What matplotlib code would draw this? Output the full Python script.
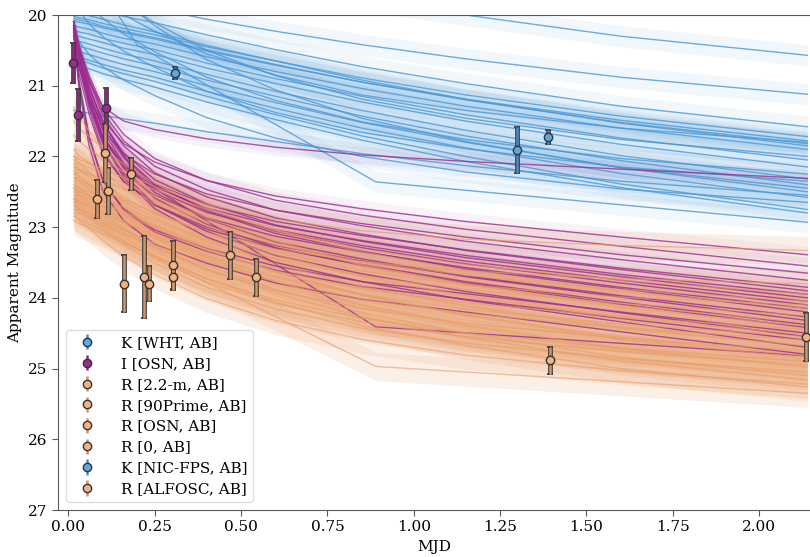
import numpy as np
import matplotlib.pyplot as plt

plt.rcParams['font.family'] = ['DejaVu Serif']

# knot times (days) for the model light curves
t_model = [0.015, 0.03, 0.06, 0.1, 0.16, 0.25, 0.4, 0.6, 0.85, 1.15, 1.6, 2.14]

mod_K = [
    [18.3, 18.4, 18.55, 18.7, 18.85, 19.05, 19.3, 19.6, 19.8, 20.0, 20.3, 20.57],
    [19.7, 19.71, 19.74, 19.79, 19.84, 19.91, 20.06, 20.23, 20.42, 20.62, 20.88, 21.12],
    [19.85, 19.87, 19.9, 19.95, 20.02, 20.11, 20.28, 20.49, 20.73, 20.97, 21.29, 21.58],
    [20.02, 20.04, 20.07, 20.12, 20.19, 20.28, 20.45, 20.65, 20.89, 21.13, 21.43, 21.72],
    [20.08, 20.1, 20.13, 20.18, 20.25, 20.34, 20.51, 20.71, 20.95, 21.19, 21.49, 21.78],
    [19.3, 19.43, 19.63, 19.8, 20.0, 20.23, 20.55, 20.85, 21.13, 21.35, 21.6, 21.8],
    [20.15, 20.17, 20.2, 20.26, 20.33, 20.41, 20.59, 20.8, 21.04, 21.29, 21.6, 21.9],
    [19.0, 19.15, 19.39, 19.6, 19.84, 20.11, 20.5, 20.86, 21.19, 21.46, 21.76, 22.0],
    [20.22, 20.24, 20.27, 20.33, 20.4, 20.49, 20.68, 20.9, 21.15, 21.41, 21.74, 22.05],
    [20.28, 20.3, 20.34, 20.39, 20.47, 20.56, 20.75, 20.97, 21.23, 21.5, 21.83, 22.15],
    [19.5, 19.64, 19.86, 20.05, 20.27, 20.52, 20.88, 21.21, 21.51, 21.76, 22.03, 22.25],
    [20.35, 20.37, 20.41, 20.47, 20.55, 20.65, 20.84, 21.08, 21.35, 21.63, 21.99, 22.32],
    [20.42, 20.44, 20.48, 20.54, 20.62, 20.72, 20.92, 21.15, 21.43, 21.71, 22.06, 22.4],
    [18.8, 18.98, 19.27, 19.53, 19.82, 20.15, 20.63, 21.06, 21.46, 21.79, 22.16, 22.45],
    [20.5, 20.52, 20.56, 20.62, 20.7, 20.8, 21.0, 21.24, 21.52, 21.8, 22.16, 22.5],
    [20.58, 20.6, 20.64, 20.7, 20.78, 20.88, 21.08, 21.32, 21.6, 21.88, 22.24, 22.58],
    [20.25, 20.37, 20.56, 20.73, 20.92, 21.14, 21.45, 21.74, 22.0, 22.22, 22.46, 22.65],
    [21.35, 21.36, 21.39, 21.42, 21.47, 21.53, 21.65, 21.79, 21.96, 22.13, 22.35, 22.55],
    [20.62, 20.64, 20.68, 20.75, 20.83, 20.94, 21.15, 21.41, 21.71, 22.0, 22.39, 22.75],
    [19.8, 19.93, 20.13, 20.31, 20.51, 20.74, 21.08, 21.38, 21.66, 21.89, 22.15, 22.35],
    [20.05, 20.07, 20.1, 20.16, 20.23, 20.32, 20.49, 20.7, 20.95, 21.2, 21.52, 21.82],
    [19.95, 19.97, 20.01, 20.06, 20.14, 20.24, 20.43, 20.65, 20.92, 21.19, 21.53, 21.85],
    [20.7, 20.72, 20.76, 20.83, 20.91, 21.02, 21.23, 21.48, 21.77, 22.07, 22.44, 22.8],
]

mod_I = [
    [20.1, 20.4, 20.95, 21.3, 21.5, 21.62, 21.75, 21.87, 21.98, 22.07, 22.18, 22.31],
    [20.12, 20.55, 21.04, 21.49, 21.82, 22.08, 22.34, 22.56, 22.74, 22.92, 23.14, 23.39],
    [20.1, 20.45, 20.86, 21.31, 21.69, 22.03, 22.34, 22.62, 22.83, 23.03, 23.27, 23.55],
    [20.15, 20.61, 21.13, 21.62, 21.97, 22.25, 22.53, 22.76, 22.95, 23.14, 23.39, 23.65],
    [20.1, 20.47, 20.9, 21.38, 21.78, 22.14, 22.47, 22.76, 22.98, 23.2, 23.46, 23.75],
    [20.2, 20.67, 21.22, 21.73, 22.1, 22.39, 22.68, 22.92, 23.12, 23.32, 23.58, 23.85],
    [20.1, 20.48, 20.94, 21.43, 21.85, 22.23, 22.57, 22.87, 23.1, 23.33, 23.6, 23.9],
    [20.15, 20.64, 21.21, 21.75, 22.13, 22.43, 22.73, 22.98, 23.19, 23.4, 23.67, 23.95],
    [20.2, 20.58, 21.04, 21.53, 21.95, 22.33, 22.67, 22.97, 23.2, 23.43, 23.7, 24.0],
    [20.1, 20.61, 21.21, 21.76, 22.15, 22.47, 22.79, 23.04, 23.26, 23.48, 23.75, 24.05],
    [20.25, 20.64, 21.1, 21.6, 22.02, 22.41, 22.75, 23.06, 23.29, 23.52, 23.79, 24.1],
    [20.15, 20.67, 21.27, 21.83, 22.23, 22.55, 22.87, 23.13, 23.35, 23.57, 23.85, 24.15],
    [20.1, 20.51, 21.0, 21.54, 21.99, 22.4, 22.77, 23.09, 23.34, 23.59, 23.87, 24.2],
    [20.3, 20.82, 21.41, 21.97, 22.36, 22.68, 23.0, 23.26, 23.48, 23.69, 23.97, 24.27],
    [20.2, 20.61, 21.11, 21.64, 22.1, 22.51, 22.88, 23.21, 23.45, 23.7, 23.99, 24.32],
    [20.15, 20.7, 21.33, 21.93, 22.35, 22.69, 23.03, 23.3, 23.53, 23.77, 24.06, 24.38],
    [20.25, 20.67, 21.17, 21.71, 22.17, 22.59, 22.96, 23.29, 23.54, 23.79, 24.09, 24.42],
    [20.2, 20.97, 21.75, 22.35, 22.74, 23.04, 23.3, 23.55, 23.77, 23.94, 24.2, 24.5],
    [20.3, 20.73, 21.24, 21.79, 22.26, 22.68, 23.06, 23.4, 23.66, 23.91, 24.21, 24.55],
    [20.1, 20.91, 21.72, 22.35, 22.76, 23.07, 23.34, 23.61, 23.84, 24.02, 24.29, 24.6],
    [20.25, 20.7, 21.23, 21.81, 22.3, 22.74, 23.14, 23.5, 23.77, 24.03, 24.34, 24.7],
    [20.2, 21.03, 21.86, 22.5, 22.91, 23.24, 23.51, 23.79, 24.02, 24.2, 24.48, 24.8],
]

mod_R = [
    [21.7, 21.78, 21.9, 22.04, 22.22, 22.43, 22.68, 22.89, 23.05, 23.17, 23.26, 23.33],
    [21.9, 21.99, 22.09, 22.24, 22.44, 22.67, 22.98, 23.25, 23.49, 23.68, 23.88, 24.05],
    [22.0, 22.04, 22.1, 22.18, 22.3, 22.47, 22.75, 23.05, 23.35, 23.61, 23.91, 24.15],
    [22.1, 22.19, 22.29, 22.44, 22.64, 22.87, 23.18, 23.45, 23.69, 23.88, 24.08, 24.25],
    [22.15, 22.19, 22.25, 22.34, 22.46, 22.63, 22.92, 23.23, 23.54, 23.8, 24.11, 24.35],
    [22.2, 22.29, 22.4, 22.56, 22.76, 23.01, 23.33, 23.62, 23.87, 24.07, 24.27, 24.45],
    [22.3, 22.34, 22.4, 22.49, 22.61, 22.79, 23.08, 23.39, 23.7, 23.97, 24.28, 24.52],
    [22.35, 22.44, 22.55, 22.71, 22.91, 23.16, 23.48, 23.77, 24.02, 24.22, 24.42, 24.6],
    [22.4, 22.45, 22.5, 22.59, 22.72, 22.9, 23.2, 23.52, 23.84, 24.11, 24.43, 24.68],
    [22.45, 22.54, 22.66, 22.82, 23.03, 23.28, 23.6, 23.9, 24.15, 24.36, 24.57, 24.75],
    [22.5, 22.55, 22.6, 22.7, 22.82, 23.01, 23.31, 23.64, 23.96, 24.24, 24.56, 24.82],
    [22.55, 22.64, 22.76, 22.93, 23.14, 23.4, 23.73, 24.03, 24.29, 24.5, 24.71, 24.9],
    [22.6, 22.65, 22.71, 22.8, 22.93, 23.12, 23.43, 23.77, 24.1, 24.39, 24.72, 24.98],
    [22.65, 22.75, 22.87, 23.03, 23.25, 23.51, 23.85, 24.16, 24.43, 24.64, 24.86, 25.05],
    [22.7, 22.75, 22.81, 22.9, 23.04, 23.23, 23.54, 23.88, 24.21, 24.5, 24.84, 25.1],
    [22.75, 22.8, 22.86, 22.95, 23.09, 23.28, 23.59, 23.93, 24.27, 24.56, 24.89, 25.16],
    [22.8, 22.9, 23.02, 23.19, 23.41, 23.67, 24.01, 24.32, 24.59, 24.81, 25.03, 25.22],
    [22.9, 22.95, 23.01, 23.1, 23.23, 23.42, 23.73, 24.06, 24.39, 24.67, 25.0, 25.26],
    [21.5, 21.6, 21.72, 21.89, 22.11, 22.38, 22.73, 23.04, 23.31, 23.53, 23.75, 23.95],
    [21.3, 21.44, 21.64, 21.89, 22.2, 22.56, 22.98, 23.34, 23.62, 23.82, 23.99, 24.1],
    [22.05, 22.1, 22.16, 22.25, 22.38, 22.57, 22.87, 23.2, 23.53, 23.81, 24.14, 24.4],
    [22.25, 22.34, 22.46, 22.62, 22.83, 23.08, 23.4, 23.7, 23.95, 24.16, 24.37, 24.55],
    [22.45, 22.5, 22.56, 22.65, 22.79, 22.98, 23.29, 23.63, 23.96, 24.25, 24.59, 24.85],
    [22.6, 22.69, 22.81, 22.98, 23.19, 23.45, 23.78, 24.08, 24.34, 24.55, 24.76, 24.95],
    [22.0, 22.09, 22.22, 22.38, 22.58, 22.81, 23.08, 23.31, 23.49, 23.62, 23.73, 23.8],
]

# coarse-grid models (the ones with visible kinks)
coarse_K_t = [0.015, 0.2, 0.89, 2.14]
coarse_K_m = [19.0, 20.43, 22.36, 22.93]
coarse_I_t = [0.015, 0.06, 0.2, 0.89, 2.14]
coarse_I_m = [20.1, 21.2, 22.3, 24.41, 24.82]
coarse_R_t = [0.015, 0.89, 2.14]
coarse_R_m = [22.85, 24.97, 25.35]

# observations
obs_labels = ['K [WHT, AB]', 'I [OSN, AB]', 'R [2.2-m, AB]', 'R [90Prime, AB]',
              'R [OSN, AB]', 'R [0, AB]', 'K [NIC-FPS, AB]', 'R [ALFOSC, AB]']
obs_band = ['K', 'I', 'R', 'R', 'R', 'R', 'K', 'R']
obs_t = [[0.308], [0.013, 0.028, 0.11], [0.106, 0.082, 0.114, 0.18],
         [0.16, 0.22, 0.232], [0.302, 0.302], [0.468, 0.543],
         [1.30, 1.39], [1.394, 2.136]]
obs_mag = [[20.82], [20.68, 21.41, 21.32], [21.95, 22.6, 22.49, 22.25],
           [23.8, 23.7, 23.8], [23.54, 23.71], [23.40, 23.71],
           [21.91, 21.72], [24.88, 24.55]]
obs_err = [[0.09], [0.28, 0.37, 0.29], [0.41, 0.27, 0.33, 0.23],
           [0.4, 0.58, 0.25], [0.35, 0.17], [0.33, 0.26],
           [0.32, 0.1], [0.19, 0.34]]

line_col = {'K': '#4a98d8', 'I': '#9b2d8e', 'R': '#e99c66'}
face_col = {'K': '#5ea8e2', 'I': '#9b2d8e', 'R': '#f4b281'}
err_col = {'K': '#4a8cc8', 'I': '#8e2a82', 'R': '#cf9668'}
halfwidth = {'K': 0.15, 'I': 0.12, 'R': 0.2}
fill_alpha = {'K': 0.07, 'I': 0.06, 'R': 0.15}
line_alpha = {'K': 0.8, 'I': 0.8, 'R': 0.6}

fig = plt.figure(figsize=(8.1, 5.57), dpi=100)
ax = fig.add_axes([58 / 810, 47 / 557, 753 / 810, 495 / 557])

for band, mods, ct, cm in [('K', mod_K, coarse_K_t, coarse_K_m),
                           ('I', mod_I, coarse_I_t, coarse_I_m),
                           ('R', mod_R, coarse_R_t, coarse_R_m)]:
    curves = [(t_model, m) for m in mods] + [(ct, cm)]
    for tt, mm in curves:
        mm = np.array(mm)
        ax.fill_between(tt, mm - halfwidth[band], mm + halfwidth[band],
                        color=line_col[band], alpha=fill_alpha[band], lw=0)
        ax.plot(tt, mm, color=line_col[band], lw=1.0, alpha=line_alpha[band])

for lab, b, tt, mm, ee in zip(obs_labels, obs_band, obs_t, obs_mag, obs_err):
    ax.errorbar(tt, mm, yerr=ee, fmt='none', ecolor='#3a3a3a', elinewidth=3.4,
                capsize=2.5, capthick=1.3, zorder=5)
    ax.errorbar(tt, mm, yerr=ee, fmt='o', color=err_col[b], ecolor=err_col[b],
                elinewidth=1.8, ms=6, mfc=face_col[b], mec='#333333', mew=1.0,
                zorder=6, label=lab)

ax.set_xlim(-0.0304, 2.1506)
ax.set_ylim(27, 20)
ax.set_xticks(np.arange(0, 2.01, 0.25))
ax.set_yticks(np.arange(20, 28, 1))
ax.tick_params(labelsize=11, length=4, color='0.35')
for s in ax.spines.values():
    s.set_color('0.35')
ax.set_xlabel('MJD', fontsize=11)
ax.set_ylabel('Apparent Magnitude', fontsize=11)

leg = ax.legend(loc='lower left', fontsize=11, framealpha=0.85,
                handletextpad=1.2, borderpad=0.4, labelspacing=0.45)
leg.get_frame().set_edgecolor('0.85')

fig.savefig('out.png', dpi=100)
